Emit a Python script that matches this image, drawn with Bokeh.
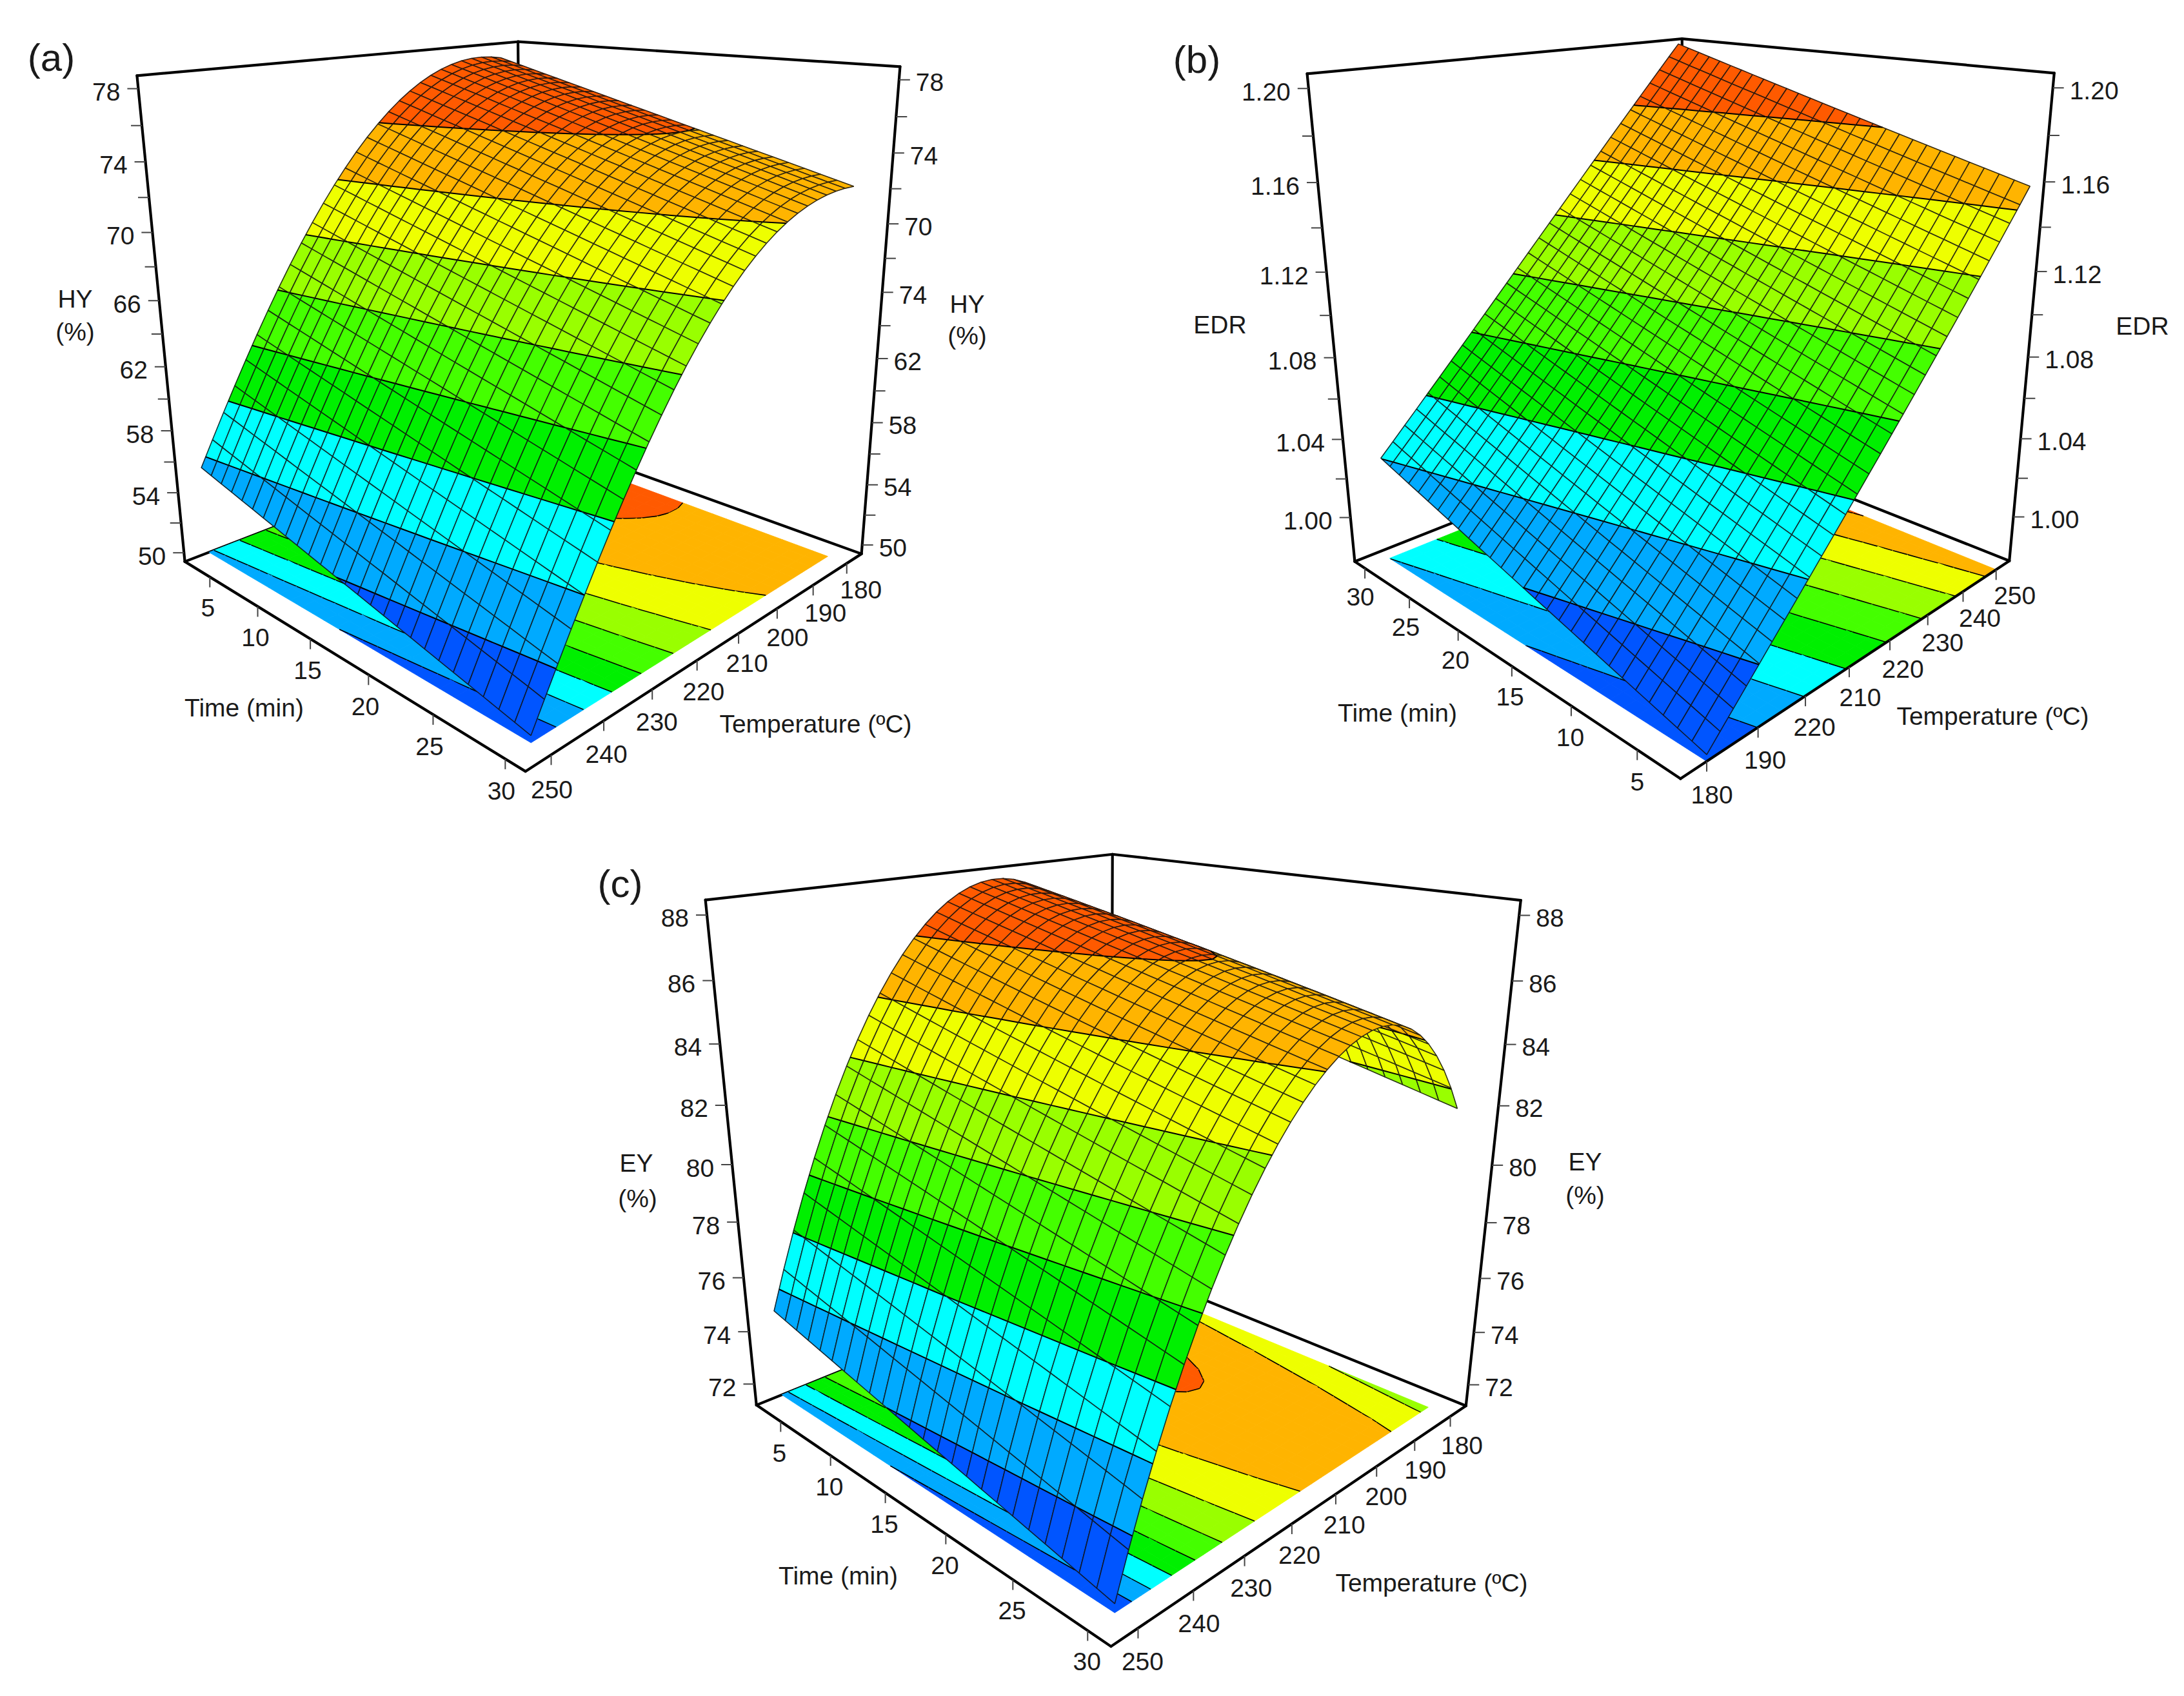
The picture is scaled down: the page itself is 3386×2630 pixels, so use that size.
import numpy as np
from bokeh.plotting import figure
from bokeh.models import ColumnDataSource
from bokeh.core.properties import value
from bokeh.embed import file_html
from bokeh.resources import INLINE

# ------------------------- data -------------------------
TEMPS = [180, 190, 200, 210, 220, 230, 240, 250]
TIMES = [2.2, 9, 16, 23, 30]
TIME_TICKS = [5, 10, 15, 20, 25, 30]

# rows: TEMPS, columns: TIMES
HY = [[77.70, 76.35, 74.97, 73.59, 72.20],
      [77.85, 76.43, 74.97, 73.51, 72.05],
      [76.55, 75.14, 73.70, 72.25, 70.80],
      [74.35, 72.97, 71.55, 70.12, 68.70],
      [70.95, 69.59, 68.20, 66.80, 65.40],
      [66.40, 65.06, 63.70, 62.32, 60.95],
      [61.10, 59.78, 58.42, 57.06, 55.70],
      [55.10, 53.81, 52.48, 51.14, 49.80]]
EDR = [[0.980, 0.992, 1.004, 1.017, 1.029],
       [1.005, 1.017, 1.029, 1.042, 1.054],
       [1.030, 1.042, 1.054, 1.067, 1.079],
       [1.055, 1.067, 1.079, 1.092, 1.104],
       [1.081, 1.093, 1.105, 1.118, 1.130],
       [1.106, 1.118, 1.130, 1.143, 1.155],
       [1.133, 1.145, 1.156, 1.168, 1.180],
       [1.160, 1.171, 1.182, 1.193, 1.205]]
EY = [[84.87, 84.15, 83.42, 82.69, 81.95],
      [87.00, 86.55, 85.85, 85.20, 84.50],
      [88.02, 87.40, 86.70, 86.00, 85.35],
      [87.87, 87.20, 86.40, 85.70, 85.05],
      [86.22, 85.50, 84.77, 84.04, 83.30],
      [83.62, 82.90, 82.17, 81.44, 80.70],
      [79.92, 79.20, 78.47, 77.74, 77.00],
      [74.42, 73.70, 72.95, 72.20, 71.45]]

HY_LEVELS = [52.60, 55.70, 58.80, 61.90, 65.00, 68.10, 71.20, 74.40]
EDR_LEVELS = [1.0044, 1.029, 1.053, 1.078, 1.102, 1.127, 1.151, 1.176]
EY_LEVELS = [73.28, 75.16, 77.04, 78.92, 80.80, 82.68, 84.56, 86.44]
BAND_COLORS = ["#0055ff", "#00aaff", "#00ffff", "#00f000", "#44ff00",
               "#99ff00", "#eeff00", "#ffb400", "#ff5a00"]

HY_TICKS = [50, 52, 54, 56, 58, 60, 62, 64, 66, 68, 70, 72, 74, 76, 78]
HY_LEFT_LABELS = {50: "50", 54: "54", 58: "58", 62: "62", 66: "66", 70: "70", 74: "74", 78: "78"}
HY_RIGHT_LABELS = {50: "50", 54: "54", 58: "58", 62: "62", 66: "74", 70: "70", 74: "74", 78: "78"}
EDR_TICKS = [1.00, 1.02, 1.04, 1.06, 1.08, 1.10, 1.12, 1.14, 1.16, 1.18, 1.20]
EDR_LABELS = {1.00: "1.00", 1.04: "1.04", 1.08: "1.08", 1.12: "1.12", 1.16: "1.16", 1.20: "1.20"}
EY_TICKS = [72, 74, 76, 78, 80, 82, 84, 86, 88]
EY_LABELS = {v: str(v) for v in EY_TICKS}
TEMP_LABELS = ["180", "190", "200", "210", "220", "230", "240", "250"]
TEMP_LABELS_B = ["180", "190", "220", "210", "220", "230", "240", "250"]

# ------------------------- layout -------------------------
W, H = 3386, 2630
PANELS = [
    dict(tag="(a)", tag_xy=(79, 89), table=HY, levels=HY_LEVELS, ticks=HY_TICKS, mesh=(28, 26),
         left_labels=HY_LEFT_LABELS, right_labels=HY_RIGHT_LABELS, temp_labels=TEMP_LABELS,
         T_lim=(175.4, 254.6), t_lim=(2.2, 31.3), z_lim=(49.4, 78.7), back=(0, 0),
         box=dict(lt=(211, 117), bt=(804, 64), rt=(1394, 103), lb=(287, 870),
                  fb=(814, 1196), rb=(1336, 858), bb=(807, 669)),
         z_left=[("HY", 116, 463), ("(%)", 116, 514)], z_right=[("HY", 1499, 471), ("(%)", 1499, 520)],
         time_title=(378, 1097), temp_title=(1264, 1122),
         time_off=((-3, 48), (-6, 50)), temp_off=((22, 41), (1, 54))),
    dict(tag="(b)", tag_xy=(1855, 92), table=EDR, levels=EDR_LEVELS, ticks=EDR_TICKS, mesh=(28, 28),
         left_labels=EDR_LABELS, right_labels=EDR_LABELS, temp_labels=TEMP_LABELS_B,
         T_lim=(175.2, 254.2), t_lim=(2.0, 31.2), z_lim=(0.9767, 1.2061), back=(1, 1),
         box=dict(lt=(2027, 115), bt=(2606, 58), rt=(3185, 114), lb=(2099, 867),
                  fb=(2605, 1210), rb=(3114, 866), bb=(2610, 672)),
         z_left=[("EDR", 1891, 503)], z_right=[("EDR", 3321, 505)],
         time_title=(2166, 1105), temp_title=(3089, 1110),
         time_off=((0, 50), (-7, 44)), temp_off=((8, 52), (29, 40))),
    dict(tag="(c)", tag_xy=(961, 1370), table=EY, levels=EY_LEVELS, ticks=EY_TICKS, mesh=(30, 24),
         left_labels=EY_LABELS, right_labels=EY_LABELS, temp_labels=TEMP_LABELS,
         T_lim=(175.4, 254.6), t_lim=(2.4, 31.45), z_lim=(71.18, 88.45), back=(0, 0),
         box=dict(lt=(1094, 1394), bt=(1723, 1324), rt=(2358, 1397), lb=(1173, 2179),
                  fb=(1720, 2553), rb=(2273, 2178), bb=(1722, 1957)),
         z_left=[("EY", 986, 1803), ("(%)", 988, 1858)], z_right=[("EY", 2457, 1801), ("(%)", 2457, 1853)],
         time_title=(1299, 2443), temp_title=(2219, 2454),
         time_off=((-2, 49), (-1, 48)), temp_off=((18, 45), (7, 52))),
]
FONT = "Liberation Sans"
TEXT_SIZE = "39px"

p = figure(width=W - 16, height=H - 16, x_range=(0, W - 16), y_range=(H - 16, 0),
           output_backend="svg", toolbar_location=None, min_border=0,
           outline_line_color=None, background_fill_color="white")
p.axis.visible = False
p.grid.visible = False


def camera(panel):
    """Perspective matrix from the box's corners."""
    (T0, T1), (t0, t1), (z0, z1) = panel["T_lim"], panel["t_lim"], panel["z_lim"]
    b0, b1 = panel["back"]
    u_b, v_b = b0, b1
    u_f, v_f = 1 - b0, 1 - b1
    left, right = (u_f, v_b), (u_b, v_f)
    box = panel["box"]
    pts = [(left, 1, box["lt"]), ((u_b, v_b), 1, box["bt"]), (right, 1, box["rt"]),
           (left, 0, box["lb"]), ((u_f, v_f), 0, box["fb"]), (right, 0, box["rb"]),
           ((u_b, v_b), 0, box["bb"])]
    rows = []
    for (u, v), w, (x, y) in pts:
        X = [u, v, w, 1.0]
        x, y = x / 1000.0, y / 1000.0
        rows.append(X + [0, 0, 0, 0] + [-x * c for c in X])
        rows.append([0, 0, 0, 0] + X + [-y * c for c in X])
    _, _, vt = np.linalg.svd(np.array(rows, dtype=float))
    M = vt[-1].reshape(3, 4)

    def project(T, t, z):
        T, t, z = np.broadcast_arrays(np.asarray(T, float), np.asarray(t, float), np.asarray(z, float))
        X = np.stack([(T - T0) / (T1 - T0), (t - t0) / (t1 - t0), (z - z0) / (z1 - z0), np.ones_like(T)])
        q = M @ X.reshape(4, -1)
        return (q[0] / q[2] * 1000).reshape(T.shape), (q[1] / q[2] * 1000).reshape(T.shape)
    return project, (left, right)


def smooth_table(table, T_nodes, t_nodes):
    Z = np.array(table, float)
    A, B = np.array(TEMPS, float), np.array(TIMES, float)
    a = (A - 215) / 35
    b = (B - 16) / 14
    terms = [(i, j) for i in range(5) for j in range(3)]
    basis = np.array([[x ** i * y ** j for i, j in terms] for x in a for y in b])
    c, *_ = np.linalg.lstsq(basis, Z.ravel(), rcond=None)
    an = (T_nodes - 215) / 35
    bn = (t_nodes - 16) / 14
    out = np.zeros((len(an), len(bn)))
    for ix, x in enumerate(an):
        for iy, y in enumerate(bn):
            out[ix, iy] = sum(c[k] * x ** i * y ** j for k, (i, j) in enumerate(terms))
    return out


def clip(poly, lim, above):
    out = []
    n = len(poly)
    for i in range(n):
        a, b = poly[i], poly[(i + 1) % n]
        ina = a[2] >= lim if above else a[2] <= lim
        inb = b[2] >= lim if above else b[2] <= lim
        if ina:
            out.append(a)
        if ina != inb:
            f = (lim - a[2]) / (b[2] - a[2])
            out.append((a[0] + f * (b[0] - a[0]), a[1] + f * (b[1] - a[1]), lim))
    return out


def add_cell(store, quad, levels, outline, contour_w):
    vals = [q[2] for q in quad]
    lo, hi = min(vals), max(vals)
    bounds = [-1e9] + list(levels) + [1e9]
    for k, col in enumerate(BAND_COLORS):
        if hi < bounds[k] or lo > bounds[k + 1]:
            continue
        poly = clip(clip(quad, bounds[k], True), bounds[k + 1], False)
        if len(poly) >= 3:
            store["xs"].append([q[0] for q in poly])
            store["ys"].append([q[1] for q in poly])
            store["fc"].append(col); store["fa"].append(1.0)
            store["lc"].append(col); store["lw"].append(0.9); store["la"].append(1.0)
    if outline:
        store["xs"].append([q[0] for q in quad])
        store["ys"].append([q[1] for q in quad])
        store["fc"].append("#000000"); store["fa"].append(0.0)
        store["lc"].append("#101010"); store["lw"].append(1.6); store["la"].append(0.85)
    for L in levels:
        if not (lo < L < hi):
            continue
        cr = []
        for i in range(4):
            a, b = quad[i], quad[(i + 1) % 4]
            if (a[2] - L) * (b[2] - L) < 0:
                f = (L - a[2]) / (b[2] - a[2])
                cr.append((a[0] + f * (b[0] - a[0]), a[1] + f * (b[1] - a[1])))
        if len(cr) >= 2:
            store["xs"].append([cr[0][0], cr[1][0]])
            store["ys"].append([cr[0][1], cr[1][1]])
            store["fc"].append("#000000"); store["fa"].append(0.0)
            store["lc"].append("#000000"); store["lw"].append(contour_w); store["la"].append(1.0)


def draw_patches(store):
    src = ColumnDataSource(store)
    p.patches("xs", "ys", source=src, fill_color="fc", fill_alpha="fa",
              line_color="lc", line_width="lw", line_alpha="la")


def texts(items, size, align="center"):
    src = ColumnDataSource(dict(x=[i[1] for i in items], y=[i[2] for i in items], t=[i[0] for i in items]))
    p.text("x", "y", text="t", source=src, text_font=value(FONT), text_font_size=value(size),
           text_align=align, text_baseline="middle", text_color="#1a1a1a")


for panel in PANELS:
    project, (left, right) = camera(panel)
    (T0, T1), (t0, t1), (z0, z1) = panel["T_lim"], panel["t_lim"], panel["z_lim"]
    b0, b1 = panel["back"]
    N_T, N_t = panel["mesh"]

    def corner(uv, z):
        T = T0 + uv[0] * (T1 - T0)
        t = t0 + uv[1] * (t1 - t0)
        x, y = project(T, t, z)
        return float(x), float(y)

    back_uv, front_uv = (b0, b1), (1 - b0, 1 - b1)
    L0, L1 = corner(left, z0), corner(left, z1)
    R0, R1 = corner(right, z0), corner(right, z1)
    B0, B1 = corner(back_uv, z0), corner(back_uv, z1)
    F0 = corner(front_uv, z0)

    # back of the box
    for a, c in [(L1, B1), (B1, R1), (B1, B0), (L0, B0), (R0, B0)]:
        p.line([a[0], c[0]], [a[1], c[1]], line_color="black", line_width=4.2, line_cap="round")

    # mesh in painter's order: far corner first
    T_nodes = np.linspace(180, 250, N_T + 1)
    t_nodes = np.linspace(t0, 30, N_t + 1)
    if b0 == 1:
        T_nodes = T_nodes[::-1]
    if b1 == 1:
        t_nodes = t_nodes[::-1]
    Zs = smooth_table(panel["table"], T_nodes, t_nodes)
    TT, tt = np.meshgrid(T_nodes, t_nodes, indexing="ij")

    fx, fy = project(TT, tt, np.full_like(TT, z0))
    floor = dict(xs=[], ys=[], fc=[], fa=[], lc=[], lw=[], la=[])
    sx, sy = project(TT, tt, Zs)
    surf = dict(xs=[], ys=[], fc=[], fa=[], lc=[], lw=[], la=[])
    for i in range(N_T):
        for j in range(N_t):
            idx = [(i, j), (i + 1, j), (i + 1, j + 1), (i, j + 1)]
            add_cell(floor, [(fx[a], fy[a], Zs[a]) for a in idx], panel["levels"], False, 1.6)
            add_cell(surf, [(sx[a], sy[a], Zs[a]) for a in idx], panel["levels"], True, 2.0)
    draw_patches(floor)
    draw_patches(surf)

    # front edges and the vertical axes
    for a, c in [(L0, F0), (F0, R0), (L0, L1), (R0, R1)]:
        p.line([a[0], c[0]], [a[1], c[1]], line_color="black", line_width=4.2, line_cap="round")

    # axis ticks
    tick_src = dict(x0=[], y0=[], x1=[], y1=[])

    def add_tick(x, y, dx, dy):
        tick_src["x0"].append(x); tick_src["y0"].append(y)
        tick_src["x1"].append(x + dx); tick_src["y1"].append(y + dy)

    left_T = T0 + left[0] * (T1 - T0); left_t = t0 + left[1] * (t1 - t0)
    right_T = T0 + right[0] * (T1 - T0); right_t = t0 + right[1] * (t1 - t0)
    ltexts, rtexts = [], []
    for z in panel["ticks"]:
        x, y = project(left_T, left_t, z); x, y = float(x), float(y)
        add_tick(x, y, -17, 0)
        if z in panel["left_labels"]:
            ltexts.append((panel["left_labels"][z], x - 28, y + 5))
        x, y = project(right_T, right_t, z); x, y = float(x), float(y)
        add_tick(x, y, 17, 0)
        if z in panel["right_labels"]:
            rtexts.append((panel["right_labels"][z], x + 26, y + 4))
    texts(ltexts, TEXT_SIZE, "right")
    texts(rtexts, TEXT_SIZE, "left")

    edge_T = left_T
    labs = []
    n = len(TIME_TICKS)
    off0, off1 = panel["time_off"]
    for k, t_val in enumerate(TIME_TICKS):
        x, y = project(edge_T, t_val, z0); x, y = float(x), float(y)
        add_tick(x, y, 0, 16)
        f = k / (n - 1)
        labs.append((str(t_val), x + off0[0] + f * (off1[0] - off0[0]), y + off0[1] + f * (off1[1] - off0[1])))
    texts(labs, TEXT_SIZE)

    edge_t = t1 if b1 == 0 else t0
    labs = []
    n = len(TEMPS)
    off0, off1 = panel["temp_off"]
    for k, T_val in enumerate(TEMPS):
        x, y = project(T_val, edge_t, z0); x, y = float(x), float(y)
        add_tick(x, y, 0, 16)
        f = k / (n - 1)
        labs.append((panel["temp_labels"][k], x + off0[0] + f * (off1[0] - off0[0]), y + off0[1] + f * (off1[1] - off0[1])))
    texts(labs, TEXT_SIZE)
    p.segment("x0", "y0", "x1", "y1", source=ColumnDataSource(tick_src), line_color="#444444", line_width=2)

    texts(panel["z_left"] + panel["z_right"], TEXT_SIZE)
    texts([("Time (min)", *panel["time_title"]), ("Temperature (ºC)", *panel["temp_title"])], TEXT_SIZE)
    texts([(panel["tag"], *panel["tag_xy"])], "60px")

open("out.html", "w").write(file_html(p, INLINE))
